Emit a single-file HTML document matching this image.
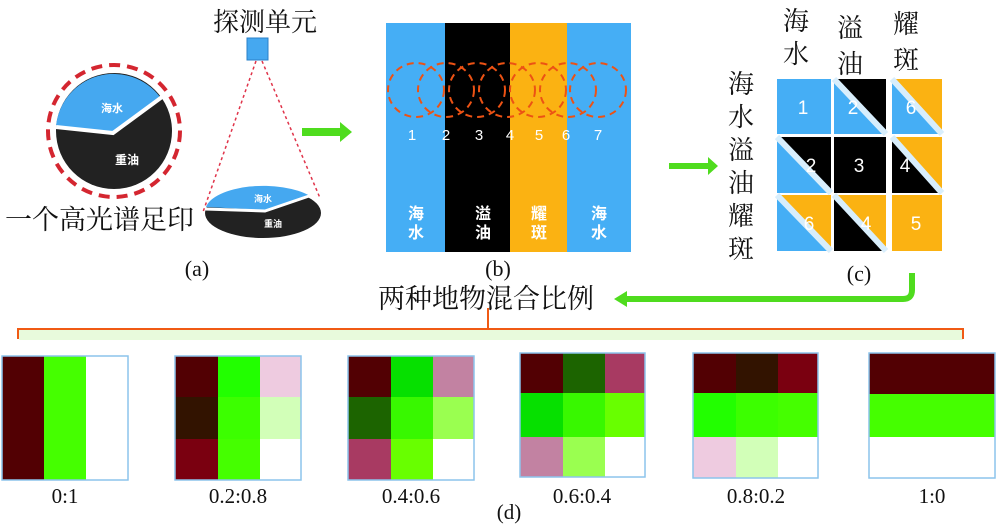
<!DOCTYPE html>
<html><head><meta charset="utf-8"><style>
body{margin:0;background:#fff;width:1000px;height:524px;overflow:hidden}
svg{display:block}
.cn{font-family:"Liberation Serif","Noto Serif CJK SC","Noto Sans CJK SC",serif;fill:#111}
.sr{font-family:"Liberation Serif",serif;fill:#111}
.w{font-family:"Liberation Sans","Noto Sans CJK SC",sans-serif;fill:#fff;font-weight:bold}
.n{font-family:"Liberation Sans",sans-serif;fill:#fff}
</style></head><body>
<svg width="1000" height="524" viewBox="0 0 1000 524" xmlns="http://www.w3.org/2000/svg">
<!-- (a) -->
<text x="265" y="31" class="cn" font-size="26" text-anchor="middle">探测单元</text>
<rect x="247" y="38" width="21" height="22" fill="#45a8f0" stroke="#2a80c8" stroke-width="1"/>
<line x1="256" y1="61" x2="203" y2="212" stroke="#e0344a" stroke-width="1.5" stroke-dasharray="3,3"/>
<line x1="262" y1="61" x2="320" y2="198" stroke="#e0344a" stroke-width="1.5" stroke-dasharray="3,3"/>
<circle cx="114" cy="131" r="66" fill="none" stroke="#d42630" stroke-width="4" stroke-dasharray="11,7"/>
<circle cx="114" cy="131" r="58" fill="#222"/>
<path d="M56,126 A58,58 0 0 1 160,97 L113,132 Z" fill="#45a8f0"/>
<polyline points="56,127 113,133 162,97" fill="none" stroke="#fff" stroke-width="4"/>
<text x="112" y="112" class="w" font-size="11" text-anchor="middle">海水</text>
<text x="127" y="164" class="w" font-size="12" text-anchor="middle">重油</text>
<ellipse cx="263" cy="213" rx="58" ry="25" fill="#222"/>
<path d="M206,207 A58,25 0 0 1 310,196 L265,210 Z" fill="#45a8f0"/>
<polyline points="205,209 265,211 312,195" fill="none" stroke="#fff" stroke-width="3"/>
<text x="263" y="202" class="w" font-size="9" text-anchor="middle">海水</text>
<text x="273" y="227" class="w" font-size="9" text-anchor="middle">重油</text>
<text x="5" y="229" class="cn" font-size="27">一个高光谱足印</text>
<text x="197" y="276" class="sr" font-size="22" text-anchor="middle">(a)</text>
<polygon points="302,128 340,128 340,122 352,132 340,142 340,136 302,136" fill="#4fdc1e"/>
<!-- (b) -->
<rect x="386" y="23" width="59" height="229" fill="#45aef5"/>
<rect x="445" y="23" width="65" height="229" fill="#000"/>
<rect x="510" y="23" width="57" height="229" fill="#fbb212"/>
<rect x="567" y="23" width="64" height="229" fill="#45aef5"/>
<g fill="none" stroke="#ec5214" stroke-width="2" stroke-dasharray="7,5">
<ellipse cx="416" cy="90" rx="28" ry="27"/><ellipse cx="446" cy="90" rx="28" ry="27"/>
<ellipse cx="477" cy="90" rx="28" ry="27"/><ellipse cx="507" cy="90" rx="28" ry="27"/>
<ellipse cx="538" cy="90" rx="28" ry="27"/><ellipse cx="568" cy="90" rx="28" ry="27"/>
<ellipse cx="598" cy="90" rx="28" ry="27"/></g>
<g class="n" font-size="15" text-anchor="middle">
<text x="412" y="140">1</text><text x="446" y="140">2</text><text x="479" y="140">3</text><text x="510" y="140">4</text><text x="539" y="140">5</text><text x="566" y="140">6</text><text x="598" y="140">7</text></g>
<g class="w" font-size="16" text-anchor="middle">
<text x="416" y="219">海</text><text x="416" y="238">水</text>
<text x="483" y="219">溢</text><text x="483" y="238">油</text>
<text x="539" y="219">耀</text><text x="539" y="238">斑</text>
<text x="599" y="219">海</text><text x="599" y="238">水</text></g>
<text x="498" y="276" class="sr" font-size="22" text-anchor="middle">(b)</text>
<polygon points="669,163 708,163 708,157 718,166 708,175 708,169 669,169" fill="#4fdc1e"/>
<!-- (c) -->
<g class="cn" font-size="26" text-anchor="middle">
<text x="796" y="30">海</text><text x="796" y="63">水</text>
<text x="850" y="37">溢</text><text x="850" y="73">油</text>
<text x="906" y="33">耀</text><text x="906" y="69">斑</text>
<text x="741" y="93">海</text><text x="741" y="126">水</text><text x="741" y="159">溢</text>
<text x="741" y="192">油</text><text x="741" y="225">耀</text><text x="741" y="258">斑</text></g>
<!-- row 1 -->
<rect x="777" y="79" width="54" height="55" fill="#45aef5"/>
<polygon points="834,79 886,79 886,134" fill="#000"/><polygon points="834,79 834,134 886,134" fill="#45aef5"/>
<polygon points="892,79 942,79 942,134" fill="#fbb212"/><polygon points="892,79 892,134 942,134" fill="#45aef5"/>
<!-- row 2 -->
<polygon points="777,137 831,137 831,193" fill="#000"/><polygon points="777,137 777,193 831,193" fill="#45aef5"/>
<rect x="834" y="137" width="52" height="56" fill="#000"/>
<polygon points="892,137 942,137 942,193" fill="#fbb212"/><polygon points="892,137 892,193 942,193" fill="#000"/>
<!-- row 3 -->
<polygon points="777,195 831,195 831,251" fill="#fbb212"/><polygon points="777,195 777,251 831,251" fill="#45aef5"/>
<polygon points="834,195 886,195 886,251" fill="#fbb212"/><polygon points="834,195 834,251 886,251" fill="#000"/>
<rect x="892" y="195" width="50" height="56" fill="#fbb212"/>
<g stroke="#d8eefc" stroke-width="6">
<line x1="834" y1="79" x2="886" y2="134"/><line x1="892" y1="79" x2="942" y2="134"/>
<line x1="777" y1="137" x2="831" y2="193"/><line x1="892" y1="137" x2="942" y2="193"/>
<line x1="777" y1="195" x2="831" y2="251"/><line x1="834" y1="195" x2="886" y2="251"/></g>
<g class="n" font-size="19" text-anchor="middle">
<text x="803" y="114">1</text><text x="853" y="114">2</text><text x="911" y="114">6</text>
<text x="811" y="172">2</text><text x="859" y="172">3</text><text x="905" y="172">4</text>
<text x="809" y="230">6</text><text x="866" y="230">4</text><text x="916" y="230">5</text></g>
<text x="859" y="281" class="sr" font-size="22" text-anchor="middle">(c)</text>
<path d="M912,273 L912,290 Q912,299 903,299 L626,299" fill="none" stroke="#4fdc1e" stroke-width="6"/>
<polygon points="614,299 627,291 627,307" fill="#4fdc1e"/>
<text x="486" y="308" class="cn" font-size="27" text-anchor="middle">两种地物混合比例</text>
<!-- brace -->
<rect x="19" y="330" width="944" height="10" fill="#e8fadc"/>
<path d="M18,339 L18,329 L963,329 L963,339 M488,308 L488,329" fill="none" stroke="#f05a14" stroke-width="2"/>
<!-- (d) panels -->
<rect x="2" y="356" width="42" height="124" fill="#520003"/><rect x="44" y="356" width="42" height="124" fill="#45ff00"/><rect x="86" y="356" width="42" height="124" fill="#fff"/>
<rect x="2" y="356" width="126" height="124" fill="none" stroke="#8cc4ec" stroke-width="1.5"/>
<rect x="175" y="356" width="43" height="41" fill="#520003"/><rect x="218" y="356" width="42" height="41" fill="#22ff00"/><rect x="260" y="356" width="41" height="41" fill="#eecbe0"/>
<rect x="175" y="397" width="43" height="42" fill="#321300"/><rect x="218" y="397" width="42" height="42" fill="#3cff00"/><rect x="260" y="397" width="41" height="42" fill="#d2ffb8"/>
<rect x="175" y="439" width="43" height="41" fill="#7a0010"/><rect x="218" y="439" width="42" height="41" fill="#45ff00"/><rect x="260" y="439" width="41" height="41" fill="#fff"/>
<rect x="175" y="356" width="126" height="124" fill="none" stroke="#8cc4ec" stroke-width="1.5"/>
<rect x="348" y="356" width="43" height="41" fill="#520003"/><rect x="391" y="356" width="42" height="41" fill="#06e000"/><rect x="433" y="356" width="41" height="41" fill="#c282a2"/>
<rect x="348" y="397" width="43" height="42" fill="#1c6400"/><rect x="391" y="397" width="42" height="42" fill="#38f800"/><rect x="433" y="397" width="41" height="42" fill="#9aff50"/>
<rect x="348" y="439" width="43" height="41" fill="#a83a62"/><rect x="391" y="439" width="42" height="41" fill="#68ff00"/><rect x="433" y="439" width="41" height="41" fill="#fff"/>
<rect x="348" y="356" width="126" height="124" fill="none" stroke="#8cc4ec" stroke-width="1.5"/>
<rect x="520" y="353" width="43" height="40" fill="#520003"/><rect x="563" y="353" width="42" height="40" fill="#1c6400"/><rect x="605" y="353" width="40" height="40" fill="#a83a62"/>
<rect x="520" y="393" width="43" height="44" fill="#06e000"/><rect x="563" y="393" width="42" height="44" fill="#38f800"/><rect x="605" y="393" width="40" height="44" fill="#68ff00"/>
<rect x="520" y="437" width="43" height="40" fill="#c282a2"/><rect x="563" y="437" width="42" height="40" fill="#9aff50"/><rect x="605" y="437" width="40" height="40" fill="#fff"/>
<rect x="520" y="353" width="125" height="124" fill="none" stroke="#8cc4ec" stroke-width="1.5"/>
<rect x="693" y="353" width="43" height="40" fill="#520003"/><rect x="736" y="353" width="42" height="40" fill="#321300"/><rect x="778" y="353" width="40" height="40" fill="#7a0010"/>
<rect x="693" y="393" width="43" height="44" fill="#22ff00"/><rect x="736" y="393" width="42" height="44" fill="#3cff00"/><rect x="778" y="393" width="40" height="44" fill="#45ff00"/>
<rect x="693" y="437" width="43" height="41" fill="#eecbe0"/><rect x="736" y="437" width="42" height="41" fill="#d2ffb8"/><rect x="778" y="437" width="40" height="41" fill="#fff"/>
<rect x="693" y="353" width="125" height="125" fill="none" stroke="#8cc4ec" stroke-width="1.5"/>
<rect x="869" y="353" width="126" height="41" fill="#520003"/><rect x="869" y="394" width="126" height="43" fill="#45ff00"/><rect x="869" y="437" width="126" height="41" fill="#fff"/>
<rect x="869" y="353" width="126" height="125" fill="none" stroke="#8cc4ec" stroke-width="1.5"/>
<g class="sr" font-size="21" text-anchor="middle">
<text x="65" y="503">0:1</text><text x="238" y="503">0.2:0.8</text><text x="411" y="503">0.4:0.6</text>
<text x="582" y="503">0.6:0.4</text><text x="756" y="503">0.8:0.2</text><text x="932" y="503">1:0</text>
<text x="509" y="519">(d)</text></g>
</svg>
</body></html>
